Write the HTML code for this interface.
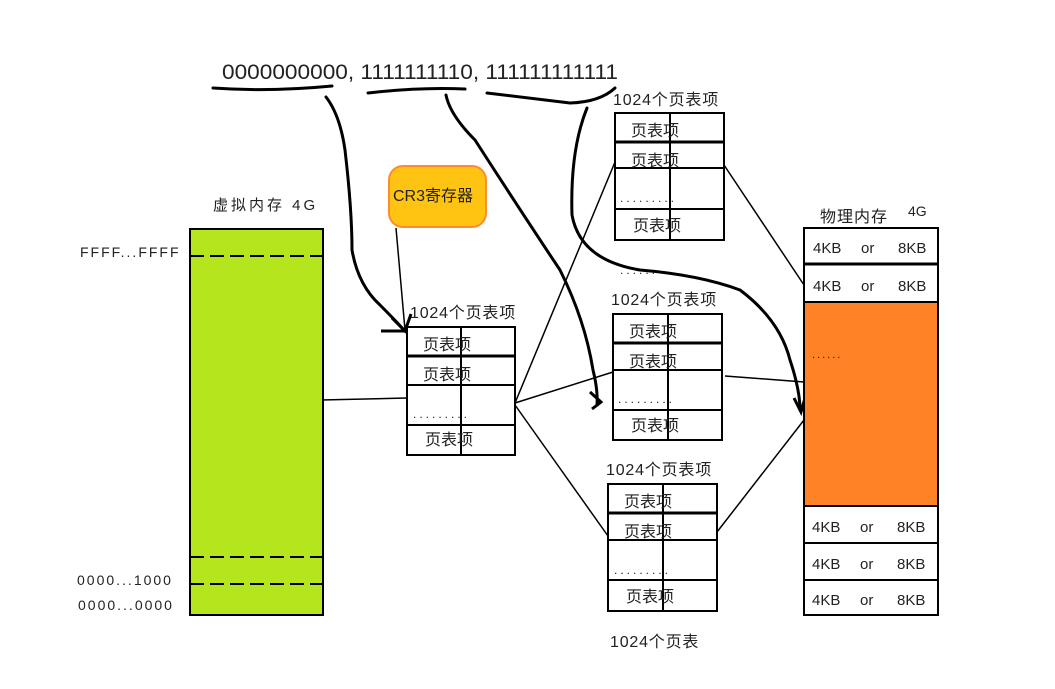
<!DOCTYPE html>
<html><head><meta charset="utf-8"><style>
html,body{margin:0;padding:0;background:#fff;}
svg{display:block;}
text{font-family:"Liberation Sans","Noto Sans CJK SC",sans-serif;fill:#222;}
</style></head><body>
<svg width="1055" height="689" viewBox="0 0 1055 689" xmlns="http://www.w3.org/2000/svg">
<rect width="1055" height="689" fill="#fff"/>
<text x="222" y="79" font-size="21" textLength="396" lengthAdjust="spacingAndGlyphs">0000000000, 1111111110, 111111111111</text>
<g fill="none" stroke="#000" stroke-width="3" stroke-linecap="round">
<path d="M213,88 Q270,92 332,86"/>
<path d="M368,93 Q420,87 465,89"/>
<path d="M487,93 Q530,98 570,103 Q600,102 615,88"/>
<path d="M326,97 Q340,115 345,150 Q352,210 352,250 Q358,285 380,305 Q395,320 404,330"/>
<path d="M446,95 Q450,115 475,140 Q520,210 560,270 Q585,320 593,370 Q598,390 597,405"/>
<path d="M587,108 Q570,150 572,215 Q580,260 640,270 Q700,275 740,290 Q780,320 790,360 Q800,390 800,410"/>
</g>
<g fill="none" stroke="#000" stroke-width="3">
<path d="M392,318 L405,331 L411,314"/>
<path d="M590,392 L601,402 L592,409"/>
<path d="M794,398 L801,412 L805,398"/>
<line x1="381" y1="331" x2="407" y2="331"/>
</g>
<g stroke="#000" stroke-width="1.5" fill="none">
<line x1="396" y1="228" x2="405" y2="330"/>
<line x1="321" y1="400" x2="407" y2="398"/>
<line x1="515" y1="403" x2="615" y2="162"/>
<line x1="515" y1="403" x2="613" y2="372"/>
<line x1="515" y1="405" x2="608" y2="536"/>
<line x1="724" y1="165" x2="804" y2="285"/>
<line x1="725" y1="376" x2="804" y2="382"/>
<line x1="717" y1="532" x2="804" y2="420"/>
</g>
<rect x="389" y="166" width="97" height="61" rx="14" fill="#ffc412" stroke="#ff8a30" stroke-width="2"/>
<text x="393" y="201" font-size="16">CR3寄存器</text>
<text x="213" y="210" font-size="15" letter-spacing="3">虚拟内存 4G</text>
<rect x="190" y="229" width="133" height="386" fill="#b5e51d" stroke="#000" stroke-width="2"/>
<g stroke="#000" stroke-width="2" stroke-dasharray="14,6">
<line x1="190" y1="256" x2="323" y2="256"/>
<line x1="190" y1="557" x2="323" y2="557"/>
<line x1="190" y1="584" x2="323" y2="584"/>
</g>
<g font-size="14" letter-spacing="2">
<text x="80" y="257">FFFF...FFFF</text>
<text x="77" y="585">0000...1000</text>
<text x="78" y="610">0000...0000</text>
</g>
<g font-size="16" letter-spacing="0.8">
<text x="410" y="318">1024个页表项</text>
<text x="613" y="105">1024个页表项</text>
<text x="611" y="305">1024个页表项</text>
<text x="606" y="475">1024个页表项</text>
<text x="610" y="647">1024个页表</text>
</g>
<g stroke="#000" stroke-width="2" fill="#fff">
<rect x="407" y="327" width="108" height="128"/>
<line x1="407" y1="356" x2="515" y2="356" stroke-width="3"/>
<line x1="407" y1="385" x2="515" y2="385"/>
<line x1="407" y1="425" x2="515" y2="425"/>
<line x1="461" y1="327" x2="461" y2="455"/>
<rect x="615" y="113" width="109" height="127"/>
<line x1="615" y1="142" x2="724" y2="142" stroke-width="3"/>
<line x1="615" y1="168" x2="724" y2="168"/>
<line x1="615" y1="209" x2="724" y2="209"/>
<line x1="670" y1="113" x2="670" y2="240"/>
<rect x="613" y="314" width="109" height="126"/>
<line x1="613" y1="343" x2="722" y2="343" stroke-width="3"/>
<line x1="613" y1="370" x2="722" y2="370"/>
<line x1="613" y1="410" x2="722" y2="410"/>
<line x1="668" y1="314" x2="668" y2="440"/>
<rect x="608" y="484" width="109" height="127"/>
<line x1="608" y1="513" x2="717" y2="513" stroke-width="3"/>
<line x1="608" y1="540" x2="717" y2="540"/>
<line x1="608" y1="580" x2="717" y2="580"/>
<line x1="663" y1="484" x2="663" y2="611"/>
</g>
<g font-size="16">
<text x="423" y="350">页表项</text><text x="423" y="380">页表项</text><text x="425" y="445">页表项</text>
<text x="631" y="136">页表项</text><text x="631" y="166">页表项</text><text x="633" y="231">页表项</text>
<text x="629" y="337">页表项</text><text x="629" y="367">页表项</text><text x="631" y="431">页表项</text>
<text x="624" y="507">页表项</text><text x="624" y="537">页表项</text><text x="626" y="602">页表项</text>
</g>
<g font-size="12" fill="#444">
<text x="413" y="418" letter-spacing="3">.........</text>
<text x="620" y="202" letter-spacing="3">.........</text>
<text x="618" y="403" letter-spacing="3">.........</text>
<text x="614" y="574" letter-spacing="3">.........</text>
<text x="620" y="274" letter-spacing="3">......</text>
</g>
<text x="820" y="222" font-size="16" letter-spacing="1">物理内存</text>
<text x="908" y="216" font-size="14">4G</text>
<rect x="804" y="302" width="134" height="204" fill="#ff8227"/>
<g stroke="#000" stroke-width="2" fill="none">
<rect x="804" y="228" width="134" height="387"/>
<line x1="804" y1="264" x2="938" y2="264" stroke-width="3"/>
<line x1="804" y1="302" x2="938" y2="302"/>
<line x1="804" y1="506" x2="938" y2="506"/>
<line x1="804" y1="543" x2="938" y2="543"/>
<line x1="804" y1="580" x2="938" y2="580"/>
</g>
<g font-size="15">
<text x="813" y="253">4KB</text><text x="861" y="253">or</text><text x="898" y="253">8KB</text>
<text x="813" y="291">4KB</text><text x="861" y="291">or</text><text x="898" y="291">8KB</text>
<text x="812" y="532">4KB</text><text x="860" y="532">or</text><text x="897" y="532">8KB</text>
<text x="812" y="569">4KB</text><text x="860" y="569">or</text><text x="897" y="569">8KB</text>
<text x="812" y="605">4KB</text><text x="860" y="605">or</text><text x="897" y="605">8KB</text>
</g>
<text x="812" y="358" font-size="11" fill="#fff" letter-spacing="2">......</text>
</svg>
</body></html>
